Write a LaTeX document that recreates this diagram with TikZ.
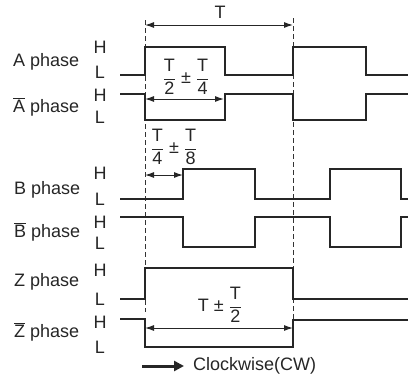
\documentclass[tikz,border=0pt]{standalone}
\usepackage{fontspec}
\setmainfont{Liberation Sans}
\usetikzlibrary{arrows.meta}
\newcommand\myfr[2]{$\displaystyle\frac{\mbox{#1}}{\mbox{#2}}$}
\newcommand\myov[1]{$\overline{\mbox{#1}}$}
\begin{document}
\begin{tikzpicture}[x=1pt,y=-1pt,
  wave/.style={line width=1.8pt,color=black!85,line join=miter},
  guide/.style={line width=1pt,color=black!80,dash pattern=on 5pt off 3pt},
  dim/.style={line width=1pt,color=black!85,arrows={Latex[length=9pt,width=6pt]-Latex[length=9pt,width=6pt]}},
  dimr/.style={line width=1pt,color=black!85,arrows={-Latex[length=9pt,width=6pt]}},
  lab/.style={font=\fontsize{18}{20}\selectfont,text=black!85,inner sep=0pt},
  hl/.style={lab,anchor=center}]
\useasboundingbox (0,0) rectangle (408,376);
% guides
\coordinate (g1t) at (145,20); \coordinate (g1b) at (145,312);
\coordinate (g2t) at (293,18); \coordinate (g2b) at (293,326);
\draw[guide] (g1t) -- (g1b);
\draw[guide] (g2t) -- (g2b);
% waveforms
\draw[wave] (120,75)--(145,75)--(145,47)--(225,47)--(225,75)--(293,75)--(293,47)--(366,47)--(366,75)--(408,75);
\draw[wave] (120,94)--(145,94)--(145,120)--(225,120)--(225,94)--(293,94)--(293,120)--(366,120)--(366,94)--(408,94);
\draw[wave] (120,199)--(183,199)--(183,169)--(255,169)--(255,199)--(330,199)--(330,169)--(401,169)--(401,199)--(408,199);
\draw[wave] (120,217)--(183,217)--(183,247)--(255,247)--(255,217)--(330,217)--(330,247)--(401,247)--(401,217)--(408,217);
\draw[wave] (120,299)--(145,299)--(145,268)--(293,268)--(293,299)--(408,299);
\draw[wave] (120,319)--(145,319)--(145,347)--(293,347)--(293,320)--(408,320);
% dimension arrows
\coordinate (t1) at (145,25); \coordinate (t2) at (293,25);
\draw[dim] (t1) -- (t2);
\node[lab] (tl) at (220,12) {T};
\coordinate (a1) at (145,99); \coordinate (a2) at (224,99);
\draw[dim] (a1) -- (a2);
\node[lab] (al) at (186,77) {\myfr{T}{2} ± \myfr{T}{4}};
\coordinate (b1) at (145,175); \coordinate (b2) at (183,175);
\draw[dim] (b1) -- (b2);
\node[lab] (bl) at (174,147) {\myfr{T}{4} ± \myfr{T}{8}};
\coordinate (z1) at (145,328); \coordinate (z2) at (293,328);
\draw[dim] (z1) -- (z2);
\node[lab] (zl) at (220,305) {T ± \myfr{T}{2}};
% clockwise
\coordinate (c1) at (142,366); \coordinate (c2) at (184,366);
\draw[line width=3pt,color=black!85,arrows={-Triangle[length=10pt,width=10pt]}] (c1) -- (c2);
\node[lab,anchor=west] (cw) at (193,366) {Clockwise(CW)};
% phase labels
\node[lab,anchor=west] (pa) at (13,62) {A phase};
\node[lab,anchor=west] (pab) at (13,107) {\myov{A} phase};
\node[lab,anchor=west] (pb) at (14,190) {B phase};
\node[lab,anchor=west] (pbb) at (14,232) {\myov{B} phase};
\node[lab,anchor=west] (pz) at (14,282) {Z phase};
\node[lab,anchor=west] (pzb) at (14,332) {\myov{Z} phase};
% H / L
\node[hl] (ha) at (100,47) {H}; \node[hl] (la) at (100,72) {L};
\node[hl] (hab) at (100,95) {H}; \node[hl] (lab2) at (100,117) {L};
\node[hl] (hb) at (100,173) {H}; \node[hl] (lb) at (100,199) {L};
\node[hl] (hbb) at (100,222) {H}; \node[hl] (lbb) at (100,243) {L};
\node[hl] (hz) at (100,270) {H}; \node[hl] (lz) at (100,299) {L};
\node[hl] (hzb) at (100,322) {H}; \node[hl] (lzb) at (100,347) {L};
\end{tikzpicture}
\end{document}
